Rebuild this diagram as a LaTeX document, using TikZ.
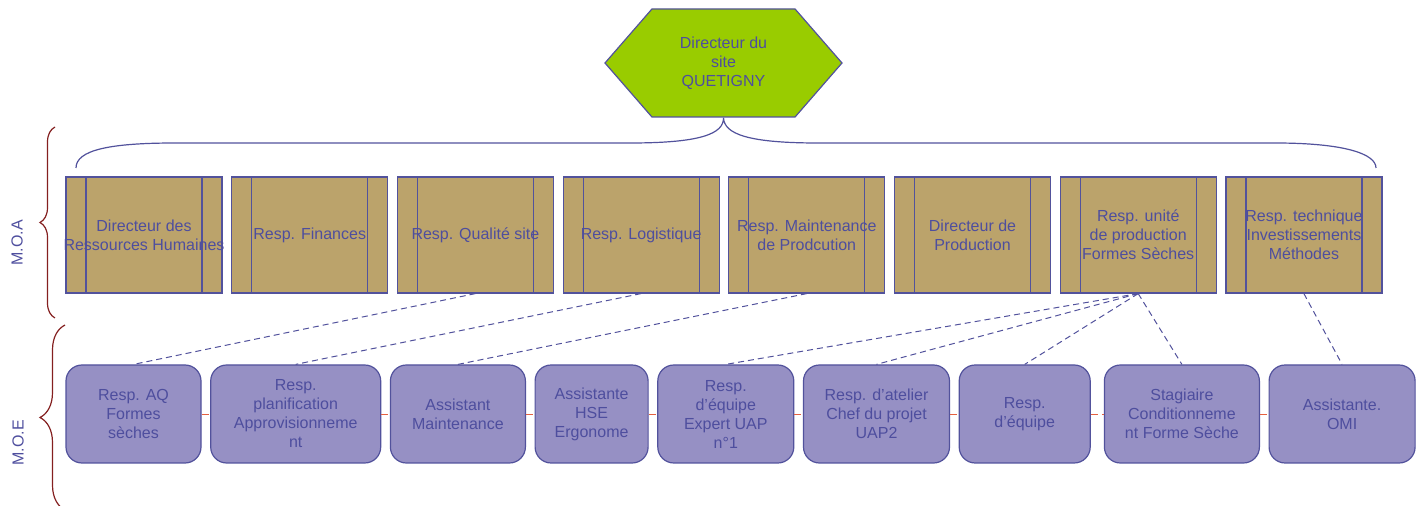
\documentclass[tikz,border=0pt]{standalone}
\usepackage{fontspec}
\setmainfont{Liberation Sans}
\usetikzlibrary{positioning,shapes.symbols,decorations.pathreplacing}
\definecolor{orgtext}{RGB}{78,78,158}
\definecolor{orgline}{RGB}{82,82,156}
\definecolor{orgtan}{RGB}{187,163,107}
\definecolor{orgpurple}{RGB}{150,144,196}
\definecolor{orggreen}{RGB}{153,204,0}
\definecolor{orgbrace}{RGB}{132,32,32}
\definecolor{orgred}{RGB}{228,96,64}

\begin{document}
\begin{tikzpicture}[
    x=1pt, y=1pt,
    node distance=8.5pt,
    every node/.style={font=\fontsize{16}{19}\selectfont, text=orgtext},
    topbox/.style={draw=orgline, fill=orgtan, line width=1.2pt, minimum width=156pt, minimum height=116pt, align=center, inner sep=1pt,
      path picture={\draw[orgline, line width=1.2pt]
        ([xshift=20pt]path picture bounding box.north west) -- ([xshift=20pt]path picture bounding box.south west)
        ([xshift=-20pt]path picture bounding box.north east) -- ([xshift=-20pt]path picture bounding box.south east);}},
    lowbox/.style={draw=orgline, fill=orgpurple, line width=1.2pt, rounded corners=16pt, minimum height=98pt, align=center, inner sep=1pt},
    hexa/.style={signal, signal to=west and east, signal pointer angle=98, draw=orgline, fill=orggreen, line width=1.2pt,
      minimum width=237pt, minimum height=108pt, align=center, inner sep=1pt},
    link/.style={draw=orgline, dash pattern=on 6pt off 4pt, line width=1pt},
    peer/.style={draw=orgred, dash pattern=on 7pt off 4pt, line width=0.8pt},
    grp/.style={draw=orgbrace, line width=1.2pt, decorate, decoration={brace, amplitude=#1}},
  ]
    \useasboundingbox (0,0) rectangle (1422,506);

    % site director
    \node[hexa] (dir) at (723.5,443) {Directeur du\\site\\QUETIGNY};

    % M.O.A row
    \node[topbox] (rh) at (144,271) {Directeur des\\\makebox[0pt]{Ressources Humaines}};
    \node[topbox, right=of rh] (fin) {Resp. Finances};
    \node[topbox, right=of fin] (qual) {Resp. Qualité site};
    \node[topbox, right=of qual] (logi) {Resp. Logistique};
    \node[topbox, right=of logi] (maint) {Resp. Maintenance\\de Prodcution};
    \node[topbox, right=of maint] (prod) {Directeur de\\Production};
    \node[topbox, right=of prod] (ufs) {Resp. unité\\de production\\Formes Sèches};
    \node[topbox, right=of ufs] (tech) {Resp. technique\\Investissements\\Méthodes};

    % M.O.E row
    \node[lowbox, minimum width=135pt] (aq) at (133.5,92) {Resp. AQ\\Formes\\sèches};
    \node[lowbox, minimum width=170pt, right=of aq] (planif) {Resp.\\planification\\Approvisionneme\\nt};
    \node[lowbox, minimum width=135pt, right=of planif] (amaint) {Assistant\\Maintenance};
    \node[lowbox, minimum width=113pt, right=of amaint] (hse) {Assistante\\HSE\\Ergonome};
    \node[lowbox, minimum width=136pt, right=of hse] (eq1) {Resp.\\d’équipe\\Expert UAP\\n°1};
    \node[lowbox, minimum width=146pt, right=of eq1] (atel) {Resp. d’atelier\\Chef du projet\\UAP2};
    \node[lowbox, minimum width=131pt, right=of atel] (eq2) {Resp.\\d’équipe};
    \node[lowbox, minimum width=155pt, right=13pt of eq2] (stag) {Stagiaire\\Conditionneme\\nt Forme Sèche};
    \node[lowbox, minimum width=146pt, right=of stag] (omi) {Assistante.\\OMI};

    % brace under the director
    \draw[orgline, line width=1.2pt] (76,338) .. controls (76,356) and (110,363) .. (175,363) -- (630,363)
      .. controls (700,363) and (724,372) .. (dir.south)
      .. controls (724,372) and (748,363) .. (818,363) -- (1275,363)
      .. controls (1345,363) and (1376,352) .. (1376,338);

    % side braces
    \draw[grp=15pt] (55,188) -- (55,379);
    \draw[grp=25pt] (65,-4) -- (65,181);
    \node[rotate=90] (moa) at (17,263) {M.O.A};
    \node[rotate=90] (moe) at (18,63) {M.O.E};

    % links between levels
    \draw[link] (qual.south) -- (aq.north);
    \draw[link] (logi.south) -- (planif.north);
    \draw[link] (maint.south) -- (amaint.north);
    \draw[link] (ufs.south) -- (eq1.north);
    \draw[link] (ufs.south) -- (atel.north);
    \draw[link] (ufs.south) -- (eq2.north);
    \draw[link] (ufs.south) -- (stag.north);
    \draw[link] (tech.south) -- (omi.north);

    % links inside M.O.E
    \draw[peer] (aq) -- (planif);
    \draw[peer] (planif) -- (amaint);
    \draw[peer] (amaint) -- (hse);
    \draw[peer] (hse) -- (eq1);
    \draw[peer] (eq1) -- (atel);
    \draw[peer] (atel) -- (eq2);
    \draw[peer] (eq2) -- (stag);
    \draw[peer] (stag) -- (omi);
  \end{tikzpicture}
\end{document}
